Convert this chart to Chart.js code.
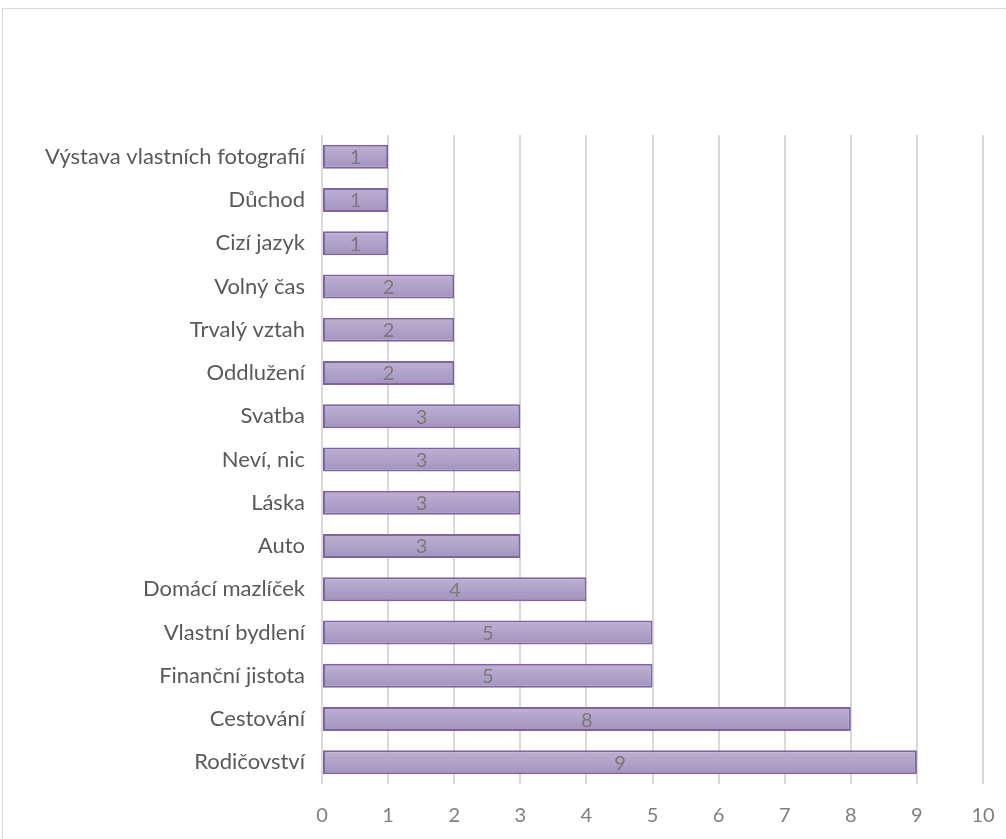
<!DOCTYPE html>
<html>
<head>
<meta charset="utf-8">
<script src="https://cdn.jsdelivr.net/npm/chart.js@4/dist/chart.umd.min.js"></script>
<style>
  html, body { margin: 0; padding: 0; background: #fff; overflow: hidden; }
  #frame { position: absolute; left: 2px; top: 8px; width: 1020px; height: 850px; border: 1px solid #d9d9d9; }
  #wrap { position: absolute; left: 0; top: 0; width: 1006px; height: 839px; }
</style>
</head>
<body>
<div id="frame"></div>
<div id="wrap"><canvas id="chart"></canvas></div>
<script>
// answers, top to bottom
const categories = [
  "Výstava vlastních fotografií", "Důchod", "Cizí jazyk", "Volný čas", "Trvalý vztah",
  "Oddlužení", "Svatba", "Neví, nic", "Láska", "Auto", "Domácí mazlíček",
  "Vlastní bydlení", "Finanční jistota", "Cestování", "Rodičovství"
];
const counts = [1, 1, 1, 2, 2, 2, 3, 3, 3, 3, 4, 5, 5, 8, 9];
const xTicks = [0, 1, 2, 3, 4, 5, 6, 7, 8, 9, 10];

const FONT = "Lato, 'Liberation Sans', sans-serif";
const BAR_HALF = 12;

// vertical gradient for each bar, computed from the category scale
function barFill(ctx) {
  const chart = ctx.chart;
  const y = chart.scales && chart.scales.y;
  if (!y || ctx.dataIndex == null) return '#b1a3c8';
  const yc = y.getPixelForValue(ctx.dataIndex);
  if (!isFinite(yc)) return '#b1a3c8';
  const g = chart.ctx.createLinearGradient(0, yc - BAR_HALF, 0, yc + BAR_HALF);
  g.addColorStop(0, '#bdb1d2');
  g.addColorStop(1, '#a393bf');
  return g;
}

const valueLabels = {
  id: 'valueLabels',
  afterDatasetsDraw(chart) {
    const c = chart.ctx;
    const meta = chart.getDatasetMeta(0);
    c.save();
    c.font = "20px " + FONT;
    c.fillStyle = '#7a7a7a';
    c.textAlign = 'center';
    c.textBaseline = 'middle';
    meta.data.forEach((bar, i) => {
      c.fillText(String(counts[i]), (bar.x + bar.base) / 2, bar.y + 1);
    });
    c.restore();
  }
};

new Chart(document.getElementById('chart'), {
  type: 'bar',
  data: {
    labels: categories,
    datasets: [{
      data: counts,
      backgroundColor: barFill,
      borderColor: '#8064a2',
      borderWidth: 2,
      borderSkipped: false,
      categoryPercentage: 1,
      barPercentage: 0.555
    }]
  },
  options: {
    indexAxis: 'y',
    responsive: true,
    maintainAspectRatio: false,
    animation: false,
    layout: { padding: { top: 135, right: 23, bottom: 0, left: 0 } },
    plugins: { legend: { display: false }, tooltip: { enabled: false } },
    scales: {
      x: {
        min: 0, max: 10,
        afterBuildTicks(scale) { scale.ticks = xTicks.map(v => ({ value: v })); },
        afterFit(scale) { scale.height = 55; scale.paddingLeft = 0; scale.paddingRight = 0; },
        grid: { color: '#d9d9d9', lineWidth: 2, drawTicks: false },
        border: { display: false },
        ticks: { color: '#7f7f7f', font: { family: FONT, size: 20 }, padding: 20 }
      },
      y: {
        afterFit(scale) { scale.width = 322; scale.paddingTop = 0; scale.paddingBottom = 0; },
        grid: { display: false, drawTicks: false },
        border: { display: false },
        ticks: { color: '#595959', font: { family: FONT, size: 22 }, padding: 17 }
      }
    }
  },
  plugins: [valueLabels]
});
</script>
</body>
</html>
